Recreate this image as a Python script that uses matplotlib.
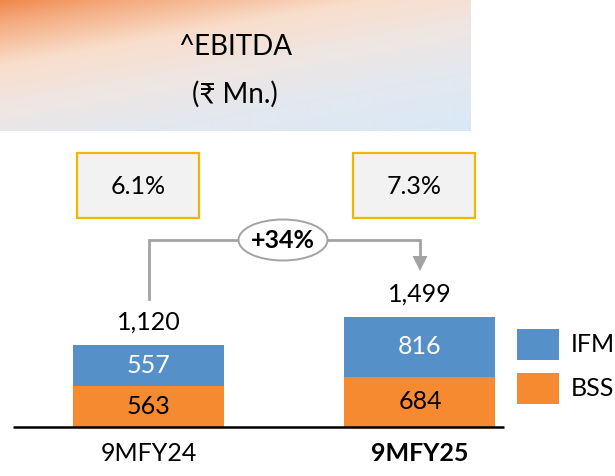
import numpy as np
import matplotlib
matplotlib.use('Agg')
import matplotlib.pyplot as plt
from matplotlib.patches import Rectangle, Ellipse, Polygon

# ---- data ----
categories = ['9MFY24', '9MFY25']
bss = [563, 684]
ifm = [557, 816]
totals = [1120, 1499]
margins = ['6.1%', '7.3%']
growth = '+34%'
title_lines = ['^EBITDA', '(₹ Mn.)']
series_names = ['IFM', 'BSS']

IFM_C = '#5591C8'
BSS_C = '#F58A30'
GRAY = '#A3A3A3'
GOLD = '#F2B600'

plt.rcParams['font.family'] = ['Lato', 'DejaVu Sans']
FS = 18

W, H = 615, 476
fig = plt.figure(figsize=(W / 100, H / 100), dpi=100)

# ---- header gradient ----
hx1, hy1 = 470, 131
hdr = fig.add_axes([0, 1 - hy1 / H, hx1 / W, hy1 / H])
xx, yy = np.meshgrid(np.linspace(0, 1, hx1), np.linspace(0, 1, hy1))
t = 0.7 * yy + 0.45 * xx
stops = [0.0, 0.12, 0.35, 0.6, 0.85, 1.15]
cols = np.array([[240, 135, 75], [244, 170, 125], [248, 222, 204],
                 [238, 230, 228], [226, 232, 240], [218, 232, 246]]) / 255
img = np.stack([np.interp(t, stops, cols[:, i]) for i in range(3)], axis=-1)
hdr.imshow(img, aspect='auto', extent=[0, 1, 1, 0], interpolation='bilinear')
hdr.set_xlim(0, 1)
hdr.set_ylim(1, 0)
hdr.axis('off')
hdr.text(0.5, 47 / hy1, title_lines[0], ha='center', va='center', fontsize=FS + 2, color='black')
hdr.text(0.5, 94 / hy1, title_lines[1], ha='center', va='center', fontsize=FS + 2, color='black')

# ---- bar axes ----
base_px, top_px = 427, 131
px_per_unit = 0.0733
c0, spacing, bw_px = 148.5, 271.5, 151
ax = fig.add_axes([0, (H - base_px) / H, 1, (base_px - top_px) / H])
ax.patch.set_alpha(0)
x = np.arange(len(categories))
ax.set_xlim(-c0 / spacing, (W - c0) / spacing)
ax.set_ylim(0, (base_px - top_px) / px_per_unit)
bw = bw_px / spacing
b1 = ax.bar(x, bss, bw, color=BSS_C, label=series_names[1])
b2 = ax.bar(x, ifm, bw, bottom=bss, color=IFM_C, label=series_names[0])
for i in range(len(categories)):
    ax.text(x[i], bss[i] / 2, f'{bss[i]:,}', ha='center', va='center', fontsize=FS, color='black')
    ax.text(x[i], bss[i] + ifm[i] / 2, f'{ifm[i]:,}', ha='center', va='center', fontsize=FS, color='white')
    top = bss[i] + ifm[i]
    ax.annotate(f'{totals[i]:,}', (x[i], top), xytext=(0, 8), textcoords='offset points',
                ha='center', va='bottom', fontsize=FS, color='black')
ax.set_xticks(x)
ax.set_xticklabels(categories, fontsize=FS)
ax.get_xticklabels()[1].set_fontweight('bold')
ax.tick_params(axis='x', length=0, pad=11)
ax.set_yticks([])
for s in ax.spines.values():
    s.set_visible(False)
ax.plot([13 / W, 504 / W], [0, 0], transform=ax.transAxes, color='black', lw=1.8,
        clip_on=False, solid_capstyle='butt')

# ---- overlay (pixel coordinates) ----
ov = fig.add_axes([0, 0, 1, 1])
ov.patch.set_alpha(0)
ov.set_xlim(0, W)
ov.set_ylim(H, 0)
ov.axis('off')

# margin boxes
for cx, m in zip([138, 414], margins):
    ov.add_patch(Rectangle((cx - 61, 153), 122, 65, facecolor='#F2F2F2', edgecolor=GOLD, lw=1.6))
    ov.text(cx, 186, m, ha='center', va='center', fontsize=FS, color='black')

# connector
ov.plot([149, 149, 420, 420], [299, 240, 240, 257], color=GRAY, lw=2, solid_joinstyle='miter')
ov.add_patch(Polygon([[412.5, 256], [427.5, 256], [420, 271]], closed=True, facecolor=GRAY, edgecolor='none'))
ov.add_patch(Ellipse((283, 240), 89, 41, facecolor='white', edgecolor=GRAY, lw=1.4, zorder=3))
ov.text(283, 241, growth, ha='center', va='center', fontsize=FS, fontweight='bold', color='black', zorder=4)

# legend
for yy0, name, col in [(329, series_names[0], IFM_C), (373, series_names[1], BSS_C)]:
    ov.add_patch(Rectangle((517, yy0), 42, 31, facecolor=col, edgecolor='none'))
    ov.text(571, yy0 + 16, name, ha='left', va='center', fontsize=FS, color='black')

fig.savefig('out.png', dpi=100)
